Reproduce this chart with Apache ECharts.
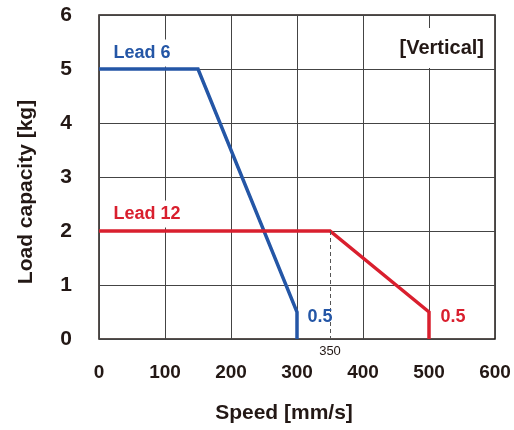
<!DOCTYPE html>
<html><head><meta charset="utf-8">
<script src="https://cdn.jsdelivr.net/npm/echarts@6/dist/echarts.min.js"></script>
<style>html,body{margin:0;padding:0;background:#fff}#c{width:514px;height:430px}</style>
</head><body><div id="c"></div>
<script>
var xTicks = [0, 100, 200, 300, 400, 500, 600];
var yTicks = [0, 1, 2, 3, 4, 5, 6];
var lead6 = [[0, 5], [150, 5], [300, 0.5], [300, 0]];
var lead12 = [[0, 2], [350, 2], [500, 0.5], [500, 0]];
var kneeX = 350;
var FONT = '"Liberation Sans Narrow", "Liberation Sans", Arial, sans-serif';
var BLUE = '#2456a6', RED = '#d91f2e';
function tag(coord, text, color, offset, bg) {
  var label = {show: true, formatter: text, position: 'right', offset: offset, color: color, fontFamily: FONT, fontWeight: 'bold', fontSize: 18};
  if (bg) { label.backgroundColor = '#fff'; label.padding = [9, 4, 0, 4]; }
  return {coord: coord, symbol: 'circle', symbolSize: 1, itemStyle: {color: 'rgba(0,0,0,0)'}, label: label};
}
var chart = echarts.init(document.getElementById('c'), null, {renderer: 'canvas'});
chart.setOption({
  animation: false,
  textStyle: {fontFamily: FONT},
  title: {text: '[Vertical]', right: 26, top: 28, padding: [10, 4], backgroundColor: '#fff', z: 10,
    textStyle: {fontFamily: FONT, fontWeight: 'bold', fontSize: 20, color: '#231815'}},
  grid: {left: 99, top: 15, right: 19, bottom: 91, show: true, borderColor: '#231815', borderWidth: 1.5, containLabel: false},
  xAxis: {
    type: 'value', min: 0, max: 600, interval: 100,
    name: 'Speed [mm/s]', nameLocation: 'middle', nameGap: 64,
    nameTextStyle: {fontFamily: FONT, fontWeight: 'bold', fontSize: 21, color: '#231815', padding: [0, 26, 0, 0]},
    axisLine: {show: false}, axisTick: {show: false},
    axisLabel: {margin: 24, fontFamily: FONT, fontWeight: 'bold', fontSize: 19, color: '#231815'},
    splitLine: {show: true, lineStyle: {color: '#444', width: 1}}
  },
  yAxis: {
    type: 'value', min: 0, max: 6, interval: 1,
    name: 'Load capacity [kg]', nameLocation: 'middle', nameGap: 62, nameRotate: 90,
    nameTextStyle: {fontFamily: FONT, fontWeight: 'bold', fontSize: 21, color: '#231815', padding: [0, 30, 0, 0]},
    axisLine: {show: false}, axisTick: {show: false},
    axisLabel: {margin: 27, fontFamily: FONT, fontWeight: 'bold', fontSize: 21, color: '#231815'},
    splitLine: {show: true, lineStyle: {color: '#444', width: 1}}
  },
  series: [
    {
      name: 'Lead 6', type: 'line', data: lead6, symbol: 'none', z: 2,
      lineStyle: {color: BLUE, width: 3.5, join: 'miter'},
      markPoint: {
        silent: true,
        data: [
          tag([0, 5], 'Lead 6', BLUE, [5, -16], true),
          tag([300, 0.5], '0.5', BLUE, [5, 5], false)
        ]
      }
    },
    {
      name: 'Lead 12', type: 'line', data: lead12, symbol: 'none', z: 3,
      lineStyle: {color: RED, width: 3.5, join: 'miter'},
      markPoint: {
        silent: true,
        data: [
          tag([0, 2], 'Lead 12', RED, [5, -17], true),
          tag([500, 0.5], '0.5', RED, [6, 5], false)
        ]
      },
      markLine: {
        symbol: 'none', silent: true,
        lineStyle: {color: '#555', width: 1, type: [4, 3]},
        label: {show: true, position: 'end', distance: 6, formatter: String(kneeX), color: '#231815', fontFamily: FONT, fontSize: 13},
        data: [[{coord: [kneeX, 2]}, {coord: [kneeX, 0]}]]
      }
    }
  ]
});
</script></body></html>
